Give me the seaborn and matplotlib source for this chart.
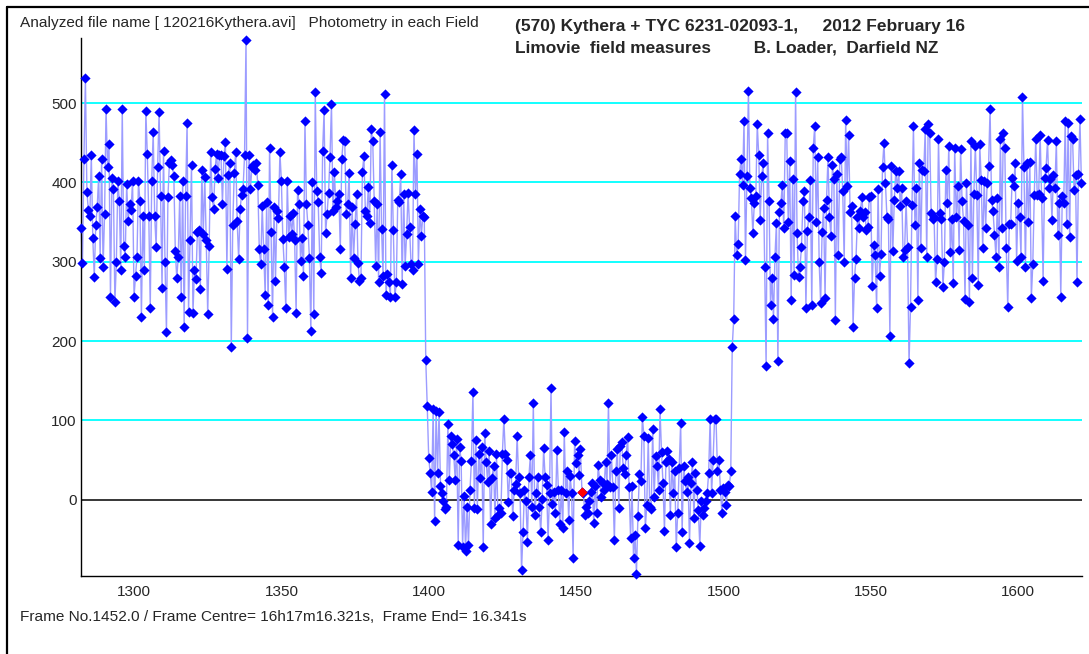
import numpy as np
import pandas as pd
import seaborn as sns
import matplotlib.pyplot as plt
from matplotlib.lines import Line2D
from matplotlib.ticker import MultipleLocator

sns.set_style("white")
plt.rcParams['font.family'] = ['Liberation Sans', 'DejaVu Sans']

# field measures: two fields per video frame
first_frame = 1282.0
field_step = 0.5

flux = [
    # 1282.0 - 1338.5
    343, 299, 430, 532, 388, 365, 358, 434, 330, 281,
    346, 369, 408, 305, 430, 293, 360, 493, 419, 449,
    255, 405, 392, 249, 300, 402, 377, 290, 493, 320,
    306, 398, 351, 373, 365, 402, 256, 282, 306, 402,
    376, 231, 358, 290, 490, 436, 358, 242, 402, 464,
    358, 318, 419, 489, 383, 267, 440, 300, 211, 382,
    424, 428, 422, 408, 314, 279, 306, 383, 256, 402,
    218, 383, 475, 237, 327, 422, 236, 290, 278, 337,
    340, 266, 416, 335, 407, 327, 234, 320, 438, 382,
    367, 417, 436, 406, 435, 434, 373, 433, 451, 291,
    409, 425, 193, 346, 412, 438, 351, 303, 367, 384,
    392, 434, 580, 204,
    # 1339.0 - 1398.5
    434, 392, 419, 422, 416, 425, 397, 316, 297, 370,
    316, 258, 375, 245, 444, 337, 231, 369, 276, 364,
    355, 438, 402, 329, 293, 242, 402, 331, 358, 335,
    362, 327, 236, 391, 373, 301, 330, 282, 477, 373,
    346, 305, 213, 400, 234, 514, 389, 375, 306, 286,
    440, 491, 336, 360, 387, 432, 499, 364, 413, 369,
    377, 385, 316, 430, 454, 452, 360, 373, 412, 279,
    369, 305, 347, 385, 299, 276, 279, 413, 433, 364,
    358, 394, 349, 467, 452, 377, 295, 373, 274, 464,
    341, 282, 512, 258, 285, 274, 256, 422, 340, 255,
    274, 378, 375, 411, 272, 386, 295, 335, 387, 344,
    297, 290, 466, 385, 436, 297, 367, 333, 358, 356,
    # 1399.0 - 1452.0 (occultation)
    176, 118, 53, 34, 10, 114, -27, 112, 34, 111,
    18, 9, -1, -12, -9, 95, 25, 81, 70, 56,
    25, 77, -57, 66, 49, -59, 5, -64, -9, -57,
    12, 49, 136, -10, 76, -11, 58, 28, 66, -60,
    84, 48, 22, 62, -31, 28, 43, -23, 58, -19,
    -10, -16, 58, 102, 58, 50, -3, 34, 34, -21,
    13, 20, 81, 29, 8, -89, -41, 13, -2, -53,
    29, 56, -9, 122, -19, 8, 29, -9, -41, 1,
    65, 29, 19, -51, 8, 141, -5, 10, -16, 63,
    13, -31, 13, -36, 86, 8, 36, -26, 30, 8,
    -73, 74, 47, 56, 31, 64, 10,
    # 1452.5 - 1502.5
    8, -19, -9, -17, -1, 10, 21, -29, 17, -17,
    44, 25, 3, 21, 13, 48, 20, 122, 16, 56,
    16, -51, 36, 64, -10, 68, 73, 40, 33, 56,
    79, 16, -48, 17, -73, -44, -93, -20, 33, 24,
    105, 81, -36, -6, 78, -9, -11, 89, 3, 55,
    43, 13, 114, 60, 21, -39, 48, 62, 51, -19,
    48, 8, 36, -60, -16, 40, 97, -41, 43, 24,
    10, 29, -55, 21, 48, -23, 34, 13, -13, -58,
    -1, -19, -10, -1, 8, 34, 102, 8, 50, 102,
    102, 36, 50, 13, -17, 15, 10, -6, 19, 17,
    36,
    # 1503.0 - 1621.5
    192, 228, 358, 308, 322, 411, 430, 397, 478, 302,
    408, 515, 393, 380, 336, 374, 383, 473, 434, 353,
    408, 424, 293, 169, 462, 376, 245, 280, 228, 306,
    349, 175, 363, 374, 397, 342, 462, 462, 350, 427,
    252, 404, 283, 514, 336, 281, 293, 319, 376, 389,
    242, 339, 356, 403, 245, 444, 471, 350, 432, 300,
    248, 338, 368, 254, 378, 432, 356, 333, 422, 404,
    227, 411, 308, 430, 432, 389, 300, 479, 395, 460,
    363, 370, 218, 280, 304, 356, 342, 364, 381, 356,
    363, 340, 344, 381, 383, 270, 321, 308, 242, 392,
    282, 310, 420, 450, 399, 356, 354, 206, 421, 313,
    378, 414, 393,
    414, 370, 393, 306, 315, 376, 319, 172, 243, 372,
    471, 346, 393, 252, 425, 317, 416, 414, 467, 306,
    474, 462, 362, 354, 357, 274, 304, 455, 361, 354,
    268, 300, 416, 374, 446, 312, 354, 273, 443, 357,
    395, 315, 442, 376, 352, 253, 399, 346, 249, 452,
    279, 386, 446, 384, 271, 448, 403, 317, 402, 343,
    399, 421, 493, 378, 364, 334, 306, 380, 294, 455,
    342, 462, 443, 317, 243, 348, 348, 406, 395, 425,
    301, 374, 357, 306, 508, 420, 294, 424, 350, 426,
    254, 297, 384, 455, 384, 386, 460, 380, 276, 405,
    418, 453, 393, 404, 353, 409, 393, 452, 334, 374,
    256, 383, 374, 478, 348, 475, 331, 459, 455, 391,
    409, 274, 411, 480, 399,
]

marked_frame = 1452.0
grid_levels = [100, 200, 300, 400, 500]
y_ticks = [0, 100, 200, 300, 400, 500]

df = pd.DataFrame({"Frame": first_frame + field_step * np.arange(len(flux)),
                   "Flux": flux})
marked = df[df["Frame"] == marked_frame]

W, H = 1089, 654
fig = plt.figure(figsize=(W / 100, H / 100), dpi=100)
ax = fig.add_axes([81 / W, (H - 576) / H, (1082 - 81) / W, (576 - 38) / H])

for lv in grid_levels:
    ax.axhline(lv, color="#00ffff", lw=1.3, zorder=1)
ax.axhline(0, color="black", lw=1.1, zorder=1)

sns.lineplot(data=df, x="Frame", y="Flux", color="#9c9cff", lw=1.0,
             ax=ax, zorder=2, clip_on=False)
sns.scatterplot(data=df, x="Frame", y="Flux", marker="D", s=27,
                color="#0000ff", linewidth=0, ax=ax, zorder=3, clip_on=False)
sns.scatterplot(data=marked, x="Frame", y="Flux", marker="D", s=27,
                color="#ff0000", linewidth=0, ax=ax, zorder=4)

ax.set_xlim(1282, 1621.7)
ax.set_ylim(-96, 582)
ax.xaxis.set_major_locator(MultipleLocator(50))
ax.xaxis.set_minor_locator(MultipleLocator(10))
ax.set_yticks(y_ticks)
ax.set_xlabel("")
ax.set_ylabel("")
ax.tick_params(axis="x", which="both", direction="out", length=4.5, width=1,
               color="black", labelsize=11, pad=2)
ax.tick_params(axis="y", length=0, labelsize=11, pad=3)
for side in ["top", "right"]:
    ax.spines[side].set_visible(False)
for side in ["left", "bottom"]:
    ax.spines[side].set_color("black")
    ax.spines[side].set_linewidth(1.0)

# window frame
fig.add_artist(Line2D([7 / W, 7 / W], [0, 1 - 7 / H], color="black", lw=1.6))
fig.add_artist(Line2D([7 / W, 1], [1 - 7 / H, 1 - 7 / H], color="black", lw=1.6))

fig.text(20 / W, 1 - 23 / H,
         "Analyzed file name [ 120216Kythera.avi]   Photometry in each Field",
         fontsize=11.1, va="center", ha="left")
fig.text(515 / W, 1 - 26 / H,
         "(570) Kythera + TYC 6231-02093-1,     2012 February 16",
         fontsize=12.5, fontweight="bold", va="center", ha="left")
fig.text(515 / W, 1 - 48 / H,
         "Limovie  field measures         B. Loader,  Darfield NZ",
         fontsize=12.4, fontweight="bold", va="center", ha="left")
fig.text(20 / W, 1 - 617 / H,
         "Frame No.1452.0 / Frame Centre= 16h17m16.321s,  Frame End= 16.341s",
         fontsize=11.1, va="center", ha="left")

fig.savefig("out.png", dpi=100)
